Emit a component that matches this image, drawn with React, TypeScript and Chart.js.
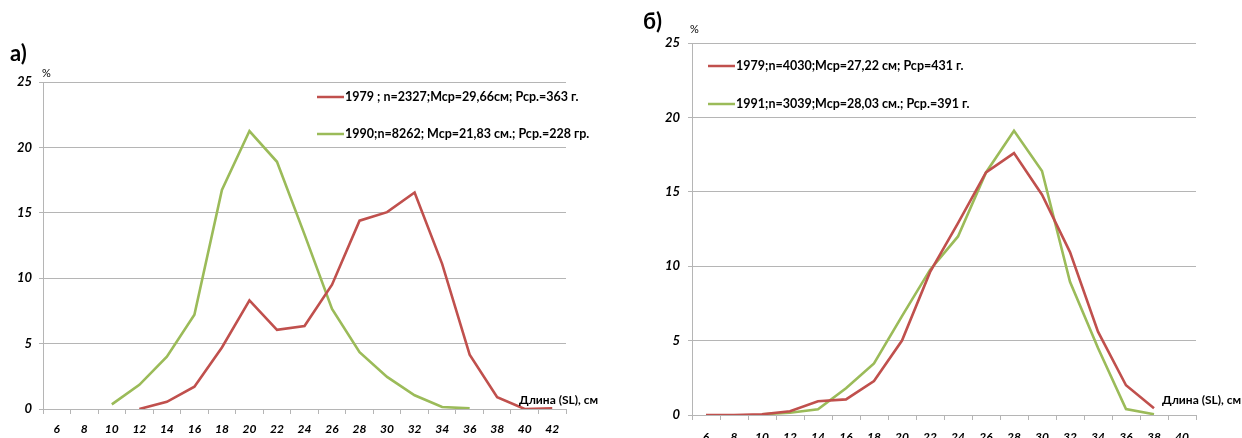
import React, { useEffect, useRef } from 'react';
import { Chart, registerables } from 'chart.js';

Chart.register(...registerables);

// ---------- DATA ----------
const LEFT_CATEGORIES = ['6', '8', '10', '12', '14', '16', '18', '20', '22', '24', '26', '28', '30', '32', '34', '36', '38', '40', '42'];
const LEFT_1979 = [null, null, null, 0, 0.55, 1.7, 4.7, 8.3, 6.05, 6.35, 9.5, 14.4, 15.05, 16.55, 11.1, 4.15, 0.9, 0.0, 0.05];
const LEFT_1990 = [null, null, 0.35, 1.85, 4.0, 7.2, 16.75, 21.25, 18.9, 13.35, 7.65, 4.35, 2.45, 1.05, 0.15, 0.05, null, null, null];
const LEFT_LABEL_1979 = '1979 ; n=2327;Мср=29,66см; Рср.=363 г.';
const LEFT_LABEL_1990 = '1990;n=8262; Мср=21,83 см.; Рср.=228 гр.';

const RIGHT_CATEGORIES = ['6', '8', '10', '12', '14', '16', '18', '20', '22', '24', '26', '28', '30', '32', '34', '36', '38', '40'];
const RIGHT_1979 = [0, 0, 0.05, 0.25, 0.92, 1.05, 2.28, 5.0, 9.6, 12.9, 16.3, 17.6, 14.8, 10.95, 5.6, 2.0, 0.45, null];
const RIGHT_1991 = [null, null, 0.05, 0.15, 0.38, 1.8, 3.47, 6.64, 9.75, 12.0, 16.3, 19.1, 16.4, 8.95, 4.5, 0.4, 0.05, null];
const RIGHT_LABEL_1979 = '1979;n=4030;Мср=27,22 см; Рср=431 г.';
const RIGHT_LABEL_1991 = '1991;n=3039;Мср=28,03 см.; Рср.=391 г.';

const Y_TICK_VALUES = [0, 5, 10, 15, 20, 25];
const Y_TITLE = '%';
const X_TITLE = 'Длина (SL), см';

// ---------- STYLE ----------
const RED = '#C0504D';
const GREEN = '#9BBB59';
const GRID = '#B5B5B5';
const FONT = 'Lato, "Open Sans", "DejaVu Sans", sans-serif';

type PanelCfg = {
  width: number;
  height: number;
  categories: string[];
  series: { label: string; data: (number | null)[]; color: string }[];
  padTop: number;
  padRight: number;
  yWidth: number;
  xHeight: number;
  yTickPad: number;
  xTickPad: number;
  panelLabel: string;
  panelLabelPos: [number, number];
  yTitlePos: [number, number];
  xTitlePos: [number, number];
  legendX: number;
  legendYs: number[];
};

function makeOverlayPlugin(cfg: PanelCfg) {
  return {
    id: 'overlay',
    afterDraw(chart: any) {
      const ctx = chart.ctx as CanvasRenderingContext2D;
      ctx.save();
      ctx.fillStyle = '#000';
      ctx.textBaseline = 'middle';
      ctx.textAlign = 'left';
      ctx.font = `bold 22px ${FONT}`;
      ctx.fillText(cfg.panelLabel, cfg.panelLabelPos[0], cfg.panelLabelPos[1]);
      ctx.font = `11px ${FONT}`;
      ctx.fillText(Y_TITLE, cfg.yTitlePos[0], cfg.yTitlePos[1]);
      ctx.font = `bold 12px ${FONT}`;
      ctx.fillText(X_TITLE, cfg.xTitlePos[0], cfg.xTitlePos[1]);
      chart.data.datasets.forEach((ds: any, i: number) => {
        const y = cfg.legendYs[i];
        ctx.strokeStyle = ds.borderColor;
        ctx.lineWidth = 2.5;
        ctx.beginPath();
        ctx.moveTo(cfg.legendX, y);
        ctx.lineTo(cfg.legendX + 27, y);
        ctx.stroke();
        ctx.fillStyle = '#000';
        ctx.font = `bold 12.5px ${FONT}`;
        ctx.fillText(ds.label, cfg.legendX + 28, y);
      });
      ctx.restore();
    },
  };
}

function Panel({ cfg, left }: { cfg: PanelCfg; left: number }) {
  const ref = useRef<HTMLCanvasElement | null>(null);
  useEffect(() => {
    if (!ref.current) return;
    const chart = new Chart(ref.current, {
      type: 'line',
      data: {
        labels: cfg.categories,
        datasets: cfg.series.map((s) => ({
          label: s.label,
          data: s.data,
          borderColor: s.color,
          backgroundColor: s.color,
          borderWidth: 2.6,
          pointRadius: 0,
          pointHoverRadius: 0,
          tension: 0,
          spanGaps: false,
          fill: false,
        })),
      },
      options: {
        responsive: false,
        animation: false,
        layout: { padding: { top: cfg.padTop, right: cfg.padRight, left: 0, bottom: 0 } },
        plugins: {
          legend: { display: false },
          tooltip: { enabled: false },
          title: { display: false },
        },
        scales: {
          x: {
            type: 'category',
            offset: true,
            grid: {
              display: true,
              drawOnChartArea: false,
              drawTicks: true,
              tickLength: 5,
              offset: true,
              color: GRID,
            },
            border: { display: true, color: GRID, width: 1 },
            ticks: {
              color: '#000',
              font: { family: FONT, size: 12, weight: 'bold', style: 'italic' },
              padding: cfg.xTickPad,
              maxRotation: 0,
              autoSkip: false,
            },
            afterFit: (s: any) => {
              s.height = cfg.xHeight;
            },
          },
          y: {
            min: 0,
            max: 25,
            afterBuildTicks: (s: any) => {
              s.ticks = Y_TICK_VALUES.map((v) => ({ value: v }));
            },
            grid: {
              color: GRID,
              drawTicks: true,
              tickLength: 4,
            },
            border: { display: true, color: GRID, width: 1 },
            ticks: {
              color: '#000',
              font: { family: FONT, size: 13, weight: 'bold', style: 'italic' },
              padding: cfg.yTickPad,
            },
            afterFit: (s: any) => {
              s.width = cfg.yWidth;
            },
          },
        },
      } as any,
      plugins: [makeOverlayPlugin(cfg)],
    });
    return () => chart.destroy();
  }, [cfg]);
  return (
    <div style={{ position: 'absolute', left, top: 0, width: cfg.width, height: cfg.height }}>
      <canvas ref={ref} width={cfg.width} height={cfg.height} style={{ width: cfg.width, height: cfg.height, display: 'block' }} />
    </div>
  );
}

const LEFT_CFG: PanelCfg = {
  width: 620,
  height: 438,
  categories: LEFT_CATEGORIES,
  series: [
    { label: LEFT_LABEL_1979, data: LEFT_1979, color: RED },
    { label: LEFT_LABEL_1990, data: LEFT_1990, color: GREEN },
  ],
  padTop: 82,
  padRight: 54,
  yWidth: 43,
  xHeight: 29,
  yTickPad: 7,
  xTickPad: 8,
  panelLabel: 'а)',
  panelLabelPos: [10, 54],
  yTitlePos: [42, 73],
  xTitlePos: [519, 400],
  legendX: 317,
  legendYs: [97, 134],
};

const RIGHT_CFG: PanelCfg = {
  width: 622,
  height: 438,
  categories: RIGHT_CATEGORIES,
  series: [
    { label: RIGHT_LABEL_1979, data: RIGHT_1979, color: RED },
    { label: RIGHT_LABEL_1991, data: RIGHT_1991, color: GREEN },
  ],
  padTop: 43,
  padRight: 46,
  yWidth: 72,
  xHeight: 23,
  yTickPad: 8,
  xTickPad: 10,
  panelLabel: 'б)',
  panelLabelPos: [23, 22],
  yTitlePos: [70, 29],
  xTitlePos: [542, 400],
  legendX: 88,
  legendYs: [66, 104],
};

export default function App() {
  return (
    <div style={{ position: 'fixed', left: 0, top: 0, width: 1242, height: 438, background: '#fff', overflow: 'hidden' }}>
      <Panel cfg={LEFT_CFG} left={0} />
      <Panel cfg={RIGHT_CFG} left={620} />
    </div>
  );
}
